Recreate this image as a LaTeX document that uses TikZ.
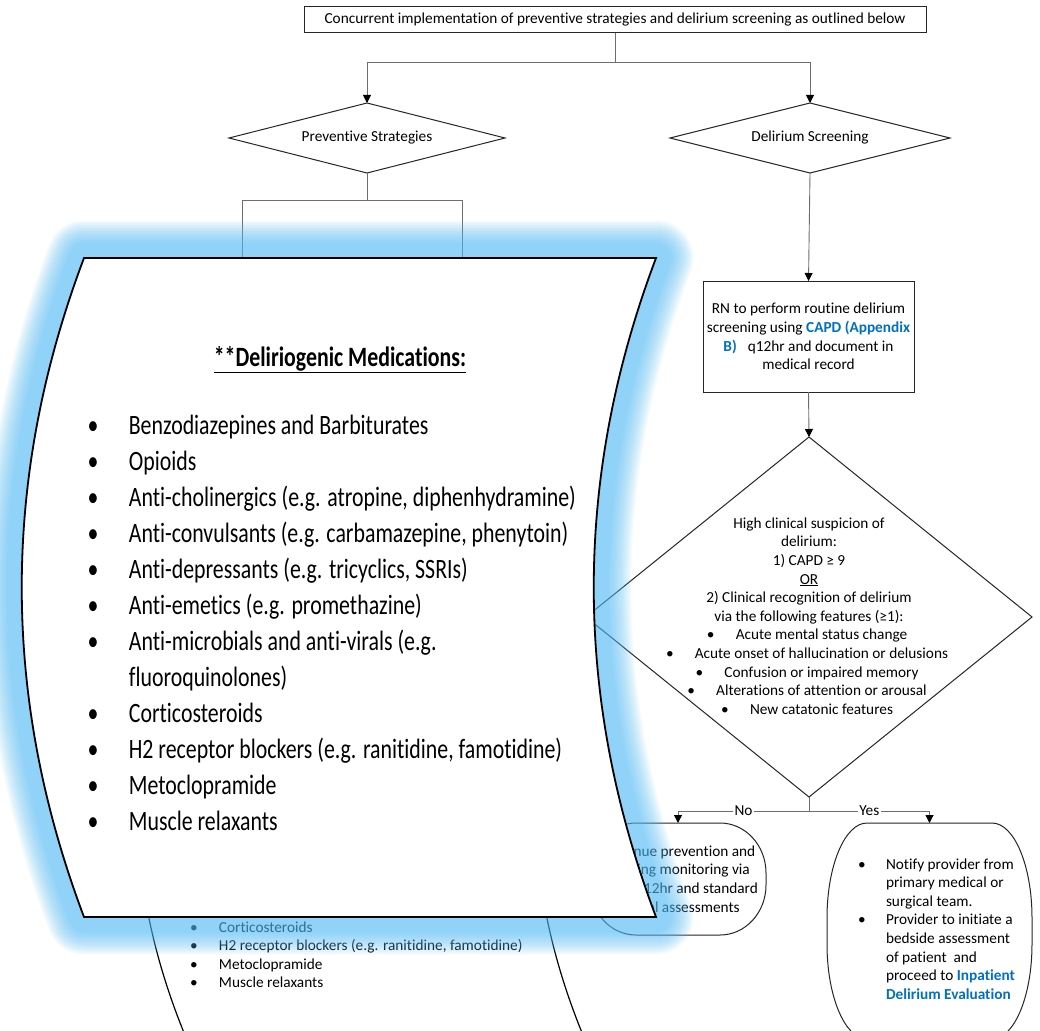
\documentclass[tikz,border=0pt]{standalone}
\usepackage{fontspec}
\setmainfont{Carlito}[Ligatures={NoCommon}]
\usepackage{graphicx}
\usetikzlibrary{arrows.meta,shapes.geometric,calc}

\definecolor{linkblue}{RGB}{0,112,192}
\definecolor{glowblue}{RGB}{85,190,248}
\definecolor{conngray}{RGB}{110,110,110}

\newcommand\bodysize{\fontsize{15.3}{18.6}\selectfont}
\newcommand\calloutsize{\fontsize{28}{36}\selectfont}
% bullet centred on the current point, taking no width
\newcommand\bl{\makebox[0pt]{\textbullet}}

% box with elliptical corners drawn round a node: node, x radius, y radius
\newcommand\ovalbox[3]{%
  \draw[frame]
  ($(#1.north west)+(#2,0)$) -- ($(#1.north east)+(-#2,0)$)
  .. controls ($(#1.north east)+(-0.4477*#2,0)$) and ($(#1.north east)+(0,0.4477*#3)$) .. ($(#1.north east)+(0,#3)$)
  -- ($(#1.south east)+(0,-#3)$)
  .. controls ($(#1.south east)+(0,-0.4477*#3)$) and ($(#1.south east)+(-0.4477*#2,0)$) .. ($(#1.south east)+(-#2,0)$)
  -- ($(#1.south west)+(#2,0)$)
  .. controls ($(#1.south west)+(0.4477*#2,0)$) and ($(#1.south west)+(0,-0.4477*#3)$) .. ($(#1.south west)+(0,-#3)$)
  -- ($(#1.north west)+(0,#3)$)
  .. controls ($(#1.north west)+(0,0.4477*#3)$) and ($(#1.north west)+(0.4477*#2,0)$) .. cycle;}

\tikzset{
  every node/.style={inner sep=0pt, outer sep=0pt, font=\bodysize},
  frame/.style={draw=black!85, line width=1pt},
  rectbox/.style={frame, rectangle},
  decision/.style={frame, diamond},
  conn/.style={draw=conngray, line width=0.9pt},
  arr/.style={conn, -{Triangle[width=8pt,length=8pt,color=black]}},
  branchlabel/.style={fill=white, inner sep=1.5pt},
  wave/.style={draw=black, line width=1.2pt},
}

\begin{document}
\begin{tikzpicture}[x=1pt, y=-1pt]
\clip (0,0) rectangle (1040,1030);
\fill[white] (0,0) rectangle (1040,1030);

% ---- flowchart ----
\node[rectbox, minimum width=622pt, minimum height=26pt] (top) at (615,20)
  {Concurrent implementation of preventive strategies and delirium screening as outlined below};

\node[decision, minimum width=276pt, minimum height=70pt] (ps) at (367,138) {};
\node (psl) at (ps.center) {Preventive Strategies};
\node[decision, minimum width=280pt, minimum height=70pt] (ds) at (810,138) {};
\node (dsl) at (ds.center) {Delirium Screening};

\coordinate (t1) at (615,62);
\draw[conn] (top.south) -- (t1);
\draw[arr] (t1) -| (ps.north);
\draw[arr] (t1) -| (ds.north);

% preventive branch, continuing behind the call-out
\coordinate (p1) at (367,200);
\coordinate (pl) at (242,300);
\coordinate (pr) at (462,300);
\draw[conn] (ps.south) -- (p1);
\draw[conn] (p1) -| (pl);
\draw[conn] (p1) -| (pr);

\node[rectbox, minimum width=211pt, minimum height=111pt, align=center] (rn) at (808.5,336.5)
  {RN to perform routine delirium\\screening using \textbf{\color{linkblue}CAPD (Appendix}\\\textbf{\color{linkblue}B)}\hspace{11pt}q12hr and document in\\medical record};
\draw[arr] (ds.south) -- (rn.north);

\node[decision, minimum width=446pt, minimum height=360pt] (hc) at (809,617) {};
\node[align=center] (hcl) at (809,616)
  {High clinical suspicion of\\delirium:\\1) CAPD ≥ 9\\\underline{OR}\\2) Clinical recognition of delirium\\via the following features (≥1):\\
   \bl\hspace{25pt}Acute mental status change\\
   \bl\hspace{25pt}Acute onset of hallucination or delusions\\
   \bl\hspace{25pt}Confusion or impaired memory\\
   \bl\hspace{25pt}Alterations of attention or arousal\\
   \bl\hspace{25pt}New catatonic features};
\draw[arr] (rn.south) -- (hc.north);

% outcome boxes
\node[minimum width=176pt, minimum height=112pt, align=center] (nb) at (678,879)
  {Continue prevention and\\ongoing monitoring via\\CAPD q12hr and standard\\clinical assessments};
\ovalbox{nb}{46}{50}

\node[minimum width=205pt, minimum height=216pt] (yb) at (929.5,931) {};
\ovalbox{yb}{40}{95}
\node[anchor=base west] (ybt) at (862,869)
  {\begin{tabular}[t]{@{}l@{}}
   \bl\hspace{24pt}Notify provider from\\
   \hspace*{24pt}primary medical or\\
   \hspace*{24pt}surgical team.\\
   \bl\hspace{24pt}Provider to initiate a\\
   \hspace*{24pt}bedside assessment\\
   \hspace*{24pt}of patient\ \ and\\
   \hspace*{24pt}proceed to \textbf{\color{linkblue}Inpatient}\\
   \hspace*{24pt}\textbf{\color{linkblue}Delirium Evaluation}
   \end{tabular}};

\coordinate (split) at (809,811);
\draw[conn] (hc.south) -- (split);
\draw[arr] (split) -| node[branchlabel, pos=0.25] (nol) {No} (nb.north);
\draw[arr] (split) -| node[branchlabel, pos=0.25] (yesl) {Yes} (yb.north);

% medication list shape under the call-out
\draw[wave] (187,560) -- (585,560) .. controls (518,720) and (518,880) .. (585,1040)
  -- (187,1040) .. controls (120,880) and (120,720) .. cycle;
\node[anchor=base west] (smalllist) at (194,932)
  {\begin{tabular}[t]{@{}l@{}}
   \bl\hspace{25pt}Corticosteroids\\
   \bl\hspace{25pt}H2 receptor blockers (e.g. ranitidine, famotidine)\\
   \bl\hspace{25pt}Metoclopramide\\
   \bl\hspace{25pt}Muscle relaxants
   \end{tabular}};

% ---- enlarged call-out with soft blue glow ----
\foreach \w in {30,33,...,75} {
  \draw[glowblue, opacity=0.06, line width=\w pt, line join=round]
    (84,258) -- (656,258) .. controls (573,478) and (573,697) .. (656,917)
    -- (84,917) .. controls (1,697) and (1,478) .. cycle;
}
\draw[black, line width=1.8pt, fill=white]
  (84,258) -- (656,258) .. controls (573,478) and (573,697) .. (656,917)
  -- (84,917) .. controls (1,697) and (1,478) .. cycle;

\node[anchor=base] (medtitle) at (340,366)
  {\scalebox{0.78}[1]{\calloutsize\bfseries\underline{**Deliriogenic Medications:}}};
\node[anchor=base west] (medlist) at (93,434)
  {\scalebox{0.78}[1]{\calloutsize\begin{tabular}[t]{@{}l@{}}
   \bl\hspace{46pt}Benzodiazepines and Barbiturates\\
   \bl\hspace{46pt}Opioids\\
   \bl\hspace{46pt}Anti-cholinergics (e.g. atropine, diphenhydramine)\\
   \bl\hspace{46pt}Anti-convulsants (e.g. carbamazepine, phenytoin)\\
   \bl\hspace{46pt}Anti-depressants (e.g. tricyclics, SSRIs)\\
   \bl\hspace{46pt}Anti-emetics (e.g. promethazine)\\
   \bl\hspace{46pt}Anti-microbials and anti-virals (e.g.\\
   \hspace*{46pt}fluoroquinolones)\\
   \bl\hspace{46pt}Corticosteroids\\
   \bl\hspace{46pt}H2 receptor blockers (e.g. ranitidine, famotidine)\\
   \bl\hspace{46pt}Metoclopramide\\
   \bl\hspace{46pt}Muscle relaxants
   \end{tabular}}};
\end{tikzpicture}
\end{document}
